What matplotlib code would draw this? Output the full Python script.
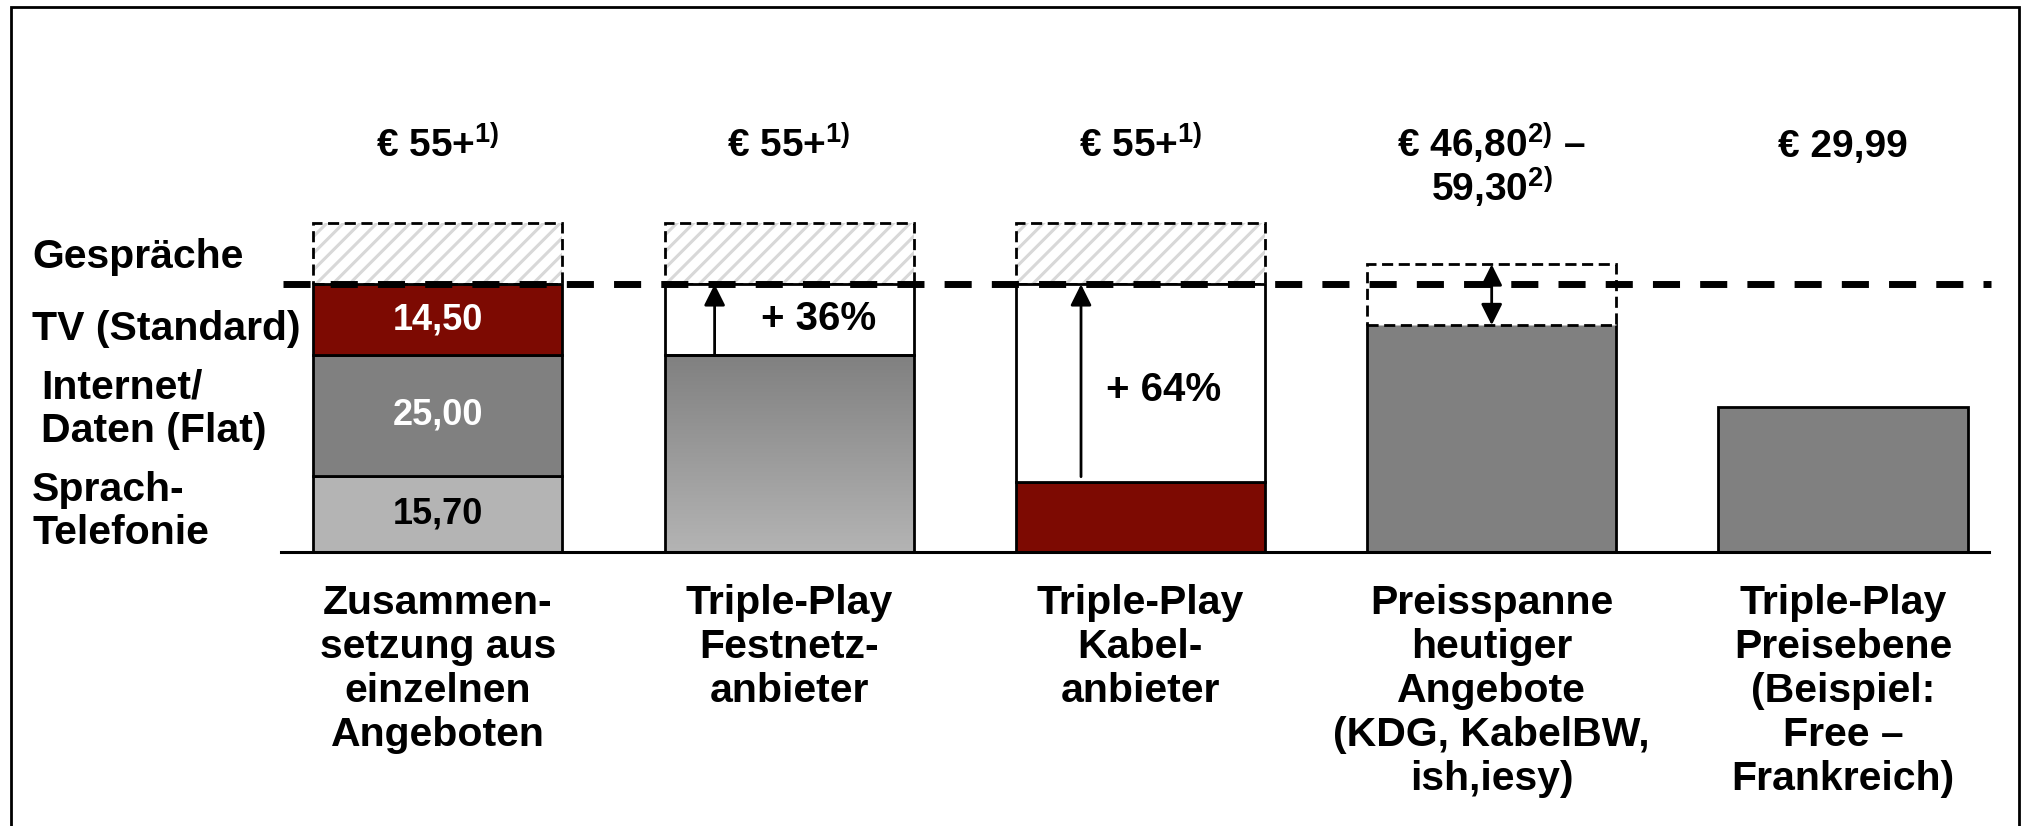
import numpy as np
import matplotlib
matplotlib.use('Agg')
import matplotlib.pyplot as plt
from matplotlib.colors import LinearSegmentedColormap

plt.rcParams['font.family'] = ['Liberation Sans', 'DejaVu Sans']
plt.rcParams['font.weight'] = 'bold'
plt.rcParams['mathtext.fontset'] = 'custom'
plt.rcParams['mathtext.rm'] = 'Liberation Sans:bold'
plt.rcParams['mathtext.bf'] = 'Liberation Sans:bold'
plt.rcParams['hatch.linewidth'] = 2.2

# data
categories = ['Zusammen-\nsetzung aus\neinzelnen\nAngeboten',
              'Triple-Play\nFestnetz-\nanbieter',
              'Triple-Play\nKabel-\nanbieter',
              'Preisspanne\nheutiger\nAngebote\n(KDG, KabelBW,\nish,iesy)',
              'Triple-Play\nPreisebene\n(Beispiel:\nFree –\nFrankreich)']
components = ['Sprach-\nTelefonie', 'Internet/\nDaten (Flat)', 'TV (Standard)', 'Gespräche']
component_values = [15.70, 25.00, 14.50]
component_labels = ['15,70', '25,00', '14,50']
gespraeche_est = 12.6           # hatched "calls" part, no value given
festnetz_base = 40.6            # triple play fixed line, before +36%
kabel_base = 14.5               # triple play cable, before +64%
uplift_labels = ['+ 36%', '+ 64%']
range_low = 46.80
range_high = 59.30
free_price = 29.99
price_labels = [[r'€ 55+$^{\mathbf{1)}}$'],
                [r'€ 55+$^{\mathbf{1)}}$'],
                [r'€ 55+$^{\mathbf{1)}}$'],
                [r'€ 46,80$^{\mathbf{2)}}$ –', r'59,30$^{\mathbf{2)}}$'],
                ['€ 29,99']]

RED = '#7D0A02'
GREY = '#808080'
LIGHT = '#B4B4B4'
HATCH = '#D8D8D8'
FS = 29.5

total = sum(component_values)
pos = np.arange(len(categories))
w = 0.709

fig = plt.figure(figsize=(20.22, 8.26), dpi=100)
ax = fig.add_axes([0, 0, 1, 1])
ax.axis('off')

# stacked bar: single offers
bottoms = np.concatenate([[0], np.cumsum(component_values)[:-1]])
ax.bar(pos[0], component_values, bottom=bottoms, width=w,
       color=[LIGHT, GREY, RED], edgecolor='black', lw=2, zorder=2)
for v, b, lab, c in zip(component_values, bottoms, component_labels,
                        ['black', 'white', 'white']):
    ax.text(pos[0], b + v / 2, lab, ha='center', va='center',
            fontsize=26, color=c)

# hatched "Gespräche" boxes on the first three bars
for p in pos[:3]:
    ax.bar(p, gespraeche_est, bottom=total, width=w, color='white',
           edgecolor=HATCH, hatch='//', lw=0, zorder=1)
    ax.bar(p, gespraeche_est, bottom=total, width=w, fill=False,
           edgecolor='black', lw=2, linestyle=(0, (4, 2)), zorder=2)

# fixed line triple play: gradient bar + white uplift box
gb = ax.bar(pos[1], festnetz_base, width=w, color='none',
            edgecolor='black', lw=2, zorder=3)[0]
cmap = LinearSegmentedColormap.from_list('g', [LIGHT, GREY])
im = ax.imshow(np.linspace(0, 1, 256).reshape(-1, 1), cmap=cmap,
               extent=[pos[1] - w / 2, pos[1] + w / 2, 0, festnetz_base],
               origin='lower', aspect='auto', zorder=2)
im.set_clip_path(gb)
ax.bar(pos[1], total - festnetz_base, bottom=festnetz_base, width=w,
       color='white', edgecolor='black', lw=2, zorder=2)

# cable triple play
ax.bar(pos[2], kabel_base, width=w, color=RED, edgecolor='black', lw=2, zorder=2)
ax.bar(pos[2], total - kabel_base, bottom=kabel_base, width=w,
       color='white', edgecolor='black', lw=2, zorder=2)

# arrows for uplift
ax.annotate('', xy=(pos[1] - 0.212, total), xytext=(pos[1] - 0.212, festnetz_base),
            arrowprops=dict(arrowstyle='-|>', color='black', lw=2,
                            mutation_scale=32, shrinkA=0, shrinkB=0), zorder=5)
ax.annotate('', xy=(pos[2] - 0.169, total), xytext=(pos[2] - 0.169, kabel_base + 1.1),
            arrowprops=dict(arrowstyle='-|>', color='black', lw=2,
                            mutation_scale=32, shrinkA=0, shrinkB=0), zorder=5)
ax.text(pos[1] + 0.085, 48.1, uplift_labels[0], ha='center', va='center', fontsize=29)
ax.text(pos[2] + 0.065, 33.5, uplift_labels[1], ha='center', va='center', fontsize=29)

# price range of today's offers
x0, x1 = pos[3] - w / 2, pos[3] + w / 2
ax.bar(pos[3], range_low, width=w, color=GREY, lw=0, zorder=2)
ax.plot([x0, x0, x1, x1], [range_low, 0, 0, range_low], color='black', lw=2, zorder=3)
ax.bar(pos[3], range_high - range_low, bottom=range_low, width=w, color='white',
       edgecolor='black', lw=2, linestyle=(0, (4, 2)), zorder=3)
ax.annotate('', xy=(pos[3], range_high), xytext=(pos[3], range_low),
            arrowprops=dict(arrowstyle='<|-|>', color='black', lw=2,
                            mutation_scale=32, shrinkA=0, shrinkB=0), zorder=5)

# Free - France
ax.bar(pos[4], free_price, width=w, color=GREY, edgecolor='black', lw=2, zorder=2)

# reference line and baseline
ax.plot([-0.44, 4.42], [total, total], color='black', lw=5,
        linestyle=(0, (3.9, 2.9)), solid_capstyle='butt', dash_capstyle='butt', zorder=6)
ax.plot([-0.446, 4.416], [0, 0], color='black', lw=2.2, zorder=6)

# price labels above bars
for p, lines in zip(pos, price_labels):
    for k, s in enumerate(lines):
        ax.text(p, 81.3 - 9.0 * k, s, ha='center', va='baseline', fontsize=28)

# category labels below
for p, c in zip(pos, categories):
    ax.text(p, -6.4, c, ha='center', va='top', fontsize=FS, linespacing=1.2)

# component labels on the left
ax.text(-1.155, 60.8, components[3], ha='left', va='center', fontsize=FS)
ax.text(-1.155, 46.0, components[2], ha='left', va='center', fontsize=FS)
ax.text(-1.13, 29.5, components[1], ha='left', va='center', fontsize=FS, linespacing=1.17)
ax.text(-1.155, 8.4, components[0], ha='left', va='center', fontsize=FS, linespacing=1.17)

ax.set_xlim(-1.2462, 4.5096)
ax.set_ylim(-56.29, 113.71)

# frame around the slide
fig.add_artist(plt.Rectangle((11 / 2022, -0.05), (2019 - 11) / 2022, 1.05 - 7.3 / 826,
                             transform=fig.transFigure, fill=False, lw=2, ec='black'))

fig.savefig('out.png', dpi=100)
